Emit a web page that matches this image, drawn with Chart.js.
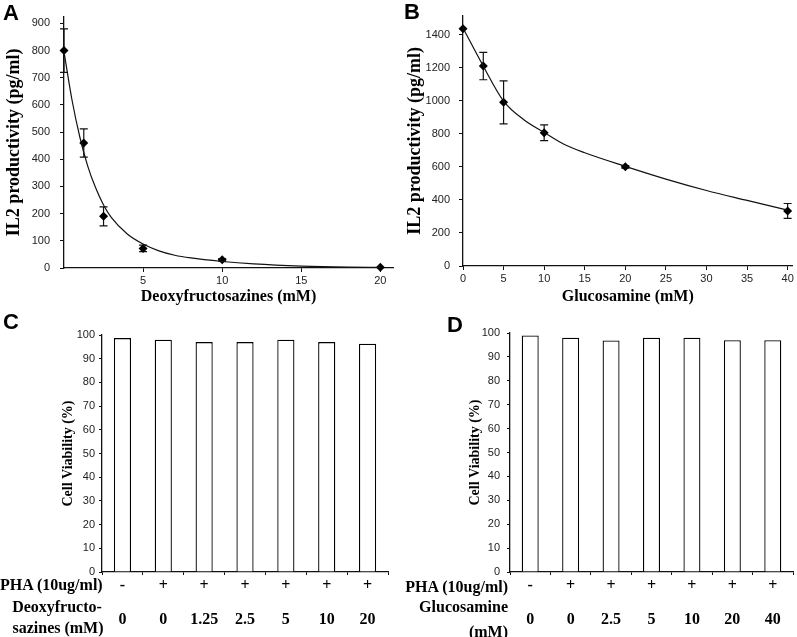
<!DOCTYPE html>
<html>
<head>
<meta charset="utf-8">
<title>IL2 productivity and cell viability</title>
<script src="https://cdn.jsdelivr.net/npm/chart.js@4.4.1/dist/chart.umd.min.js"></script>
<style>
  body { margin: 0; background: #fff; }
  #fig { position: relative; width: 797px; height: 637px; overflow: hidden; background: #fff; }
  #fig canvas { position: absolute; }
  .panel { position: absolute; font: bold 22px 'Liberation Sans', Arial, sans-serif; line-height: 22px; color: #000; }
  .row { position: absolute; font: bold 16px 'Liberation Serif', 'Times New Roman', serif; line-height: 16px; color: #000; white-space: nowrap; }
</style>
</head>
<body>
<div id="fig">
  <canvas id="chartC" width="400" height="337" style="left:0;top:300px"></canvas>
  <canvas id="chartD" width="397" height="337" style="left:400px;top:300px"></canvas>
  <canvas id="chartA" width="400" height="310" style="left:0;top:0"></canvas>
  <canvas id="chartB" width="397" height="310" style="left:400px;top:0"></canvas>

  <div class="panel" style="left:3px;top:2px">A</div>
  <div class="panel" style="left:404px;top:1px">B</div>
  <div class="panel" style="left:3px;top:311px">C</div>
  <div class="panel" style="left:447px;top:314px">D</div>

  <div class="row" style="left:0;top:577px">PHA (10ug/ml)</div>
  <div class="row" style="left:0;width:114px;text-align:center;top:599px">Deoxyfructo-</div>
  <div class="row" style="left:0;width:116px;text-align:center;top:620px">sazines (mM)</div>

  <div class="row" style="right:289px;top:579px;text-align:right">PHA (10ug/ml)</div>
  <div class="row" style="right:289px;top:599px;text-align:right">Glucosamine</div>
  <div class="row" style="right:289px;top:624px;text-align:right">(mM)</div>
</div>

<script>
// ── Data ─────────────────────────────────────────────────────────────────────

// A: deoxyfructosazines dose response
const doseA     = [0, 1.25, 2.5, 5, 10, 20];
const il2A      = [800, 460, 190, 72, 30, 3];
const errA      = [80, 52, 35, 12, 5, 0];
const fitDoseA  = [0, 0.5, 1, 1.5, 2, 2.5, 3, 4, 5, 6, 7, 8, 10, 12, 15, 18, 20];
const fitA      = [795, 620, 482, 375, 295, 232, 185, 125, 88, 63, 47, 37, 24, 15, 7, 3, 2];
const xTicksA   = [5, 10, 15, 20];
const yTicksA   = [0, 100, 200, 300, 400, 500, 600, 700, 800, 900];

// B: glucosamine dose response
const doseB     = [0, 2.5, 5, 10, 20, 40];
const il2B      = [1436, 1210, 990, 806, 600, 333];
const errB      = [0, 83, 130, 48, 8, 45];
const fitDoseB  = [0, 2.5, 5, 7.5, 10, 12.5, 15, 20, 25, 30, 35, 40];
const fitB      = [1440, 1209, 998, 885, 808, 735, 685, 603, 526, 457, 397, 338];
const xTicksB   = [0, 5, 10, 15, 20, 25, 30, 35, 40];
const yTicksB   = [0, 200, 400, 600, 800, 1000, 1200, 1400];

// C / D: cell viability
const phaLabels   = ['-', '+', '+', '+', '+', '+', '+'];
const doseLabelsC = ['0', '0', '1.25', '2.5', '5', '10', '20'];
const viabilityC  = [98.7, 98.0, 97.0, 97.0, 98.0, 97.0, 96.3];
const doseLabelsD = ['0', '0', '2.5', '5', '10', '20', '40'];
const viabilityD  = [99.0, 98.0, 96.9, 98.0, 98.0, 97.0, 97.0];

// ── Helpers ──────────────────────────────────────────────────────────────────

const SERIF = "'Liberation Serif', 'Times New Roman', serif";
const SANS  = "'Liberation Sans', Arial, sans-serif";
const INK   = '#111';

Chart.defaults.animation = false;
Chart.defaults.color = INK;

const errorBars = {
    id: 'errorBars',
    beforeDatasetsDraw(chart) {
        const { ctx, scales: { x, y } } = chart;
        chart.data.datasets.forEach(ds => {
            if (!ds.errors) return;
            ctx.save();
            ctx.strokeStyle = INK;
            ctx.lineWidth = 1.2;
            ds.data.forEach((p, i) => {
                const e = ds.errors[i];
                if (!e) return;
                const px = x.getPixelForValue(p.x);
                const hi = y.getPixelForValue(p.y + e);
                const lo = y.getPixelForValue(p.y - e);
                ctx.beginPath();
                ctx.moveTo(px, hi); ctx.lineTo(px, lo);
                ctx.moveTo(px - 4, hi); ctx.lineTo(px + 4, hi);
                ctx.moveTo(px - 4, lo); ctx.lineTo(px + 4, lo);
                ctx.stroke();
            });
            ctx.restore();
        });
    }
};

function pts(xs, ys) {
    return xs.map((v, i) => ({ x: v, y: ys[i] }));
}

function axisGrid(len) {
    return { display: true, drawOnChartArea: false, drawTicks: true, tickLength: len, color: INK, lineWidth: 1 };
}

// ── Dose response panels (A, B) ──────────────────────────────────────────────

function curveChart(id, cfg) {
    new Chart(document.getElementById(id), {
        type: 'scatter',
        data: {
            datasets: [
                {
                    data: pts(cfg.fitX, cfg.fitY),
                    showLine: true,
                    borderColor: INK,
                    borderWidth: 1.2,
                    pointRadius: 0,
                    cubicInterpolationMode: 'monotone',
                    clip: false
                },
                {
                    data: pts(cfg.dose, cfg.vals),
                    errors: cfg.errs,
                    showLine: false,
                    pointStyle: 'rectRot',
                    pointRadius: 4.5,
                    backgroundColor: '#000',
                    borderColor: '#000',
                    borderWidth: 0,
                    clip: false
                }
            ]
        },
        options: {
            responsive: false,
            layout: { padding: cfg.pad },
            plugins: { legend: { display: false }, tooltip: { enabled: false } },
            scales: {
                x: {
                    min: 0, max: cfg.xMax,
                    afterBuildTicks: s => { s.ticks = cfg.xTicks.map(v => ({ value: v })); },
                    afterFit: s => { s.height = cfg.xH; },
                    border: { color: INK, width: 1.3 },
                    grid: axisGrid(4),
                    ticks: { padding: 2.5, color: '#222', font: { family: SANS, size: 11 }, maxRotation: 0 },
                    title: { display: true, text: cfg.xTitle, color: '#000',
                             font: { family: SERIF, size: 16, weight: 'bold' }, padding: { top: 0, bottom: 3.4 } }
                },
                y: {
                    min: 0, max: cfg.yMax,
                    afterBuildTicks: s => { s.ticks = cfg.yTicks.map(v => ({ value: v })); },
                    afterFit: s => { s.width = cfg.yW; },
                    border: { color: INK, width: 1.3 },
                    grid: axisGrid(4),
                    ticks: { padding: cfg.yPad, color: '#222', font: { family: SANS, size: 11 },
                             callback: v => String(v) },
                    title: { display: true, text: 'IL2 productivity (pg/ml)', color: '#000',
                             font: { family: SERIF, size: 18, weight: 'bold' }, padding: { top: cfg.yTitlePad, bottom: 0 } }
                }
            }
        },
        plugins: [errorBars]
    });
}

// ── Viability panels (C, D) ──────────────────────────────────────────────────

function viabilityChart(id, doseLabels, vals, cfg) {
    new Chart(document.getElementById(id), {
        type: 'bar',
        data: {
            labels: phaLabels.map((p, i) => [p, '', doseLabels[i]]),
            datasets: [{
                data: vals,
                backgroundColor: '#fff',
                borderColor: '#000',
                borderWidth: 1.3,
                barPercentage: 0.42,
                categoryPercentage: 1
            }]
        },
        options: {
            responsive: false,
            layout: { padding: cfg.pad },
            plugins: { legend: { display: false }, tooltip: { enabled: false } },
            scales: {
                x: {
                    afterFit: s => { s.height = 65; },
                    border: { color: INK, width: 1.3 },
                    grid: { display: true, offset: true, drawOnChartArea: false, tickLength: 3, color: INK },
                    ticks: { padding: 2.5, color: '#000', maxRotation: 0, autoSkip: false,
                             font: { family: SERIF, size: 16, weight: 'bold', lineHeight: 1.05 } }
                },
                y: {
                    min: 0, max: 100,
                    ticks: { stepSize: 10, padding: cfg.yPad, color: '#222', font: { family: SANS, size: 11 } },
                    afterFit: s => { s.width = cfg.yW; },
                    border: { color: INK, width: 1.3 },
                    grid: axisGrid(3),
                    title: { display: true, text: 'Cell Viability (%)', color: '#000',
                             font: { family: SERIF, size: 14, weight: 'bold' }, padding: { top: cfg.yTitlePad, bottom: 0 } }
                }
            }
        }
    });
}

// ── Init ─────────────────────────────────────────────────────────────────────

curveChart('chartA', {
    fitX: fitDoseA, fitY: fitA, dose: doseA, vals: il2A, errs: errA,
    xMax: 20.8, yMax: 925, xTicks: xTicksA, yTicks: yTicksA,
    xTitle: 'Deoxyfructosazines (mM)',
    pad: { left: 0, top: 15, right: 7, bottom: 0 }, xH: 42, yW: 64, yPad: 10, yTitlePad: 4
});

curveChart('chartB', {
    fitX: fitDoseB, fitY: fitB, dose: doseB, vals: il2B, errs: errB,
    xMax: 40.6, yMax: 1515, xTicks: xTicksB, yTicks: yTicksB,
    xTitle: 'Glucosamine (mM)',
    pad: { left: 0, top: 14, right: 3, bottom: 0 }, xH: 44, yW: 63, yPad: 9, yTitlePad: 5
});

viabilityChart('chartC', doseLabelsC, viabilityC,
    { pad: { left: 0, top: 35, right: 12, bottom: 0 }, yW: 102, yPad: 4, yTitlePad: 60 });

viabilityChart('chartD', doseLabelsD, viabilityD,
    { pad: { left: 0, top: 33, right: 4, bottom: 0 }, yW: 110, yPad: 7, yTitlePad: 67 });
</script>
</body>
</html>
